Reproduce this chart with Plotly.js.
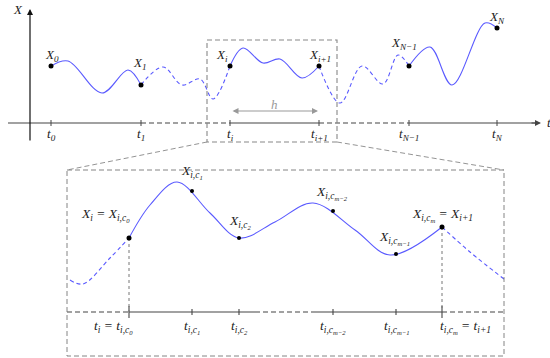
<!DOCTYPE html>
<html><head><meta charset="utf-8">
<script src="https://cdn.plot.ly/plotly-3.0.1.min.js"></script>
<style>html,body{margin:0;padding:0;background:#fff}#g{width:550px;height:358px}</style>
</head><body><div id="g"></div>
<script>
// ---- top panel data (pixel-space coordinates) ----
const tTop = [51, 141, 230, 319, 409, 497];
const tTopLabels = ['t<sub>0</sub>', 't<sub>1</sub>', 't<sub>i</sub>', 't<sub>i+1</sub>', 't<sub>N−1</sub>', 't<sub>N</sub>'];
const XTop = [66, 85, 66, 66, 66, 28];
const XTopLabels = ['X<sub>0</sub>', 'X<sub>1</sub>', 'X<sub>i</sub>', 'X<sub>i+1</sub>', 'X<sub>N−1</sub>', 'X<sub>N</sub>'];
const XTopLabelPos = [[52, 55], [140, 63], [222, 55], [320, 55], [404, 43], [497, 17]];

const seg0X = [51, 68, 102, 128, 141], seg0Y = [66, 61, 93, 70, 85];
const dash01X = [141, 163, 182, 200, 213, 230], dash01Y = [85, 67, 85, 79, 99, 66];
const segIX = [230, 243, 263, 280, 302, 319], segIY = [66, 48, 63, 59, 78, 66];
const dashINX = [319, 340, 362, 383, 398, 409], dashINY = [66, 103, 66, 84, 55, 66];
const segNX = [409, 430, 452, 485, 497], segNY = [66, 47, 85, 23, 28];

// ---- bottom panel data ----
const tBot = [129, 192, 239, 333, 396, 442];
const tBotLabels = ['t<sub>i</sub> = t<sub>i,c<sub>0</sub></sub>', 't<sub>i,c<sub>1</sub></sub>', 't<sub>i,c<sub>2</sub></sub>',
  't<sub>i,c<sub>m−2</sub></sub>', 't<sub>i,c<sub>m−1</sub></sub>', 't<sub>i,c<sub>m</sub></sub> = t<sub>i+1</sub>'];
const tBotLabelX = [113, 192, 239, 333, 396, 465];
const XBot = [238, 191, 238, 211, 254, 227];
const XBotLabels = ['X<sub>i</sub> = X<sub>i,c<sub>0</sub></sub>', 'X<sub>i,c<sub>1</sub></sub>', 'X<sub>i,c<sub>2</sub></sub>',
  'X<sub>i,c<sub>m−2</sub></sub>', 'X<sub>i,c<sub>m−1</sub></sub>', 'X<sub>i,c<sub>m</sub></sub> = X<sub>i+1</sub>'];
const XBotLabelPos = [[105, 215], [192, 172], [240, 222], [332, 193], [394, 238], [442, 215]];

const botDashLX = [70, 83, 110, 129], botDashLY = [280, 284, 258, 238];
const botSolidX = [129, 150, 177, 210, 239, 275, 313, 355, 390, 442];
const botSolidY = [238, 205, 182, 213, 238, 222, 203, 230, 255, 227];
const botDashRX = [442, 470, 504], botDashRY = [227, 252, 279];

const blue = '#5a5aff';
const axisCol = '#444';
const gray = '#888';
const textCol = '#222';
const FONT = 'Liberation Serif, DejaVu Serif, serif';
const CDASH = '4px,3px';
const ADASH = '5px,3px';

const traces = [];
function line(x, y, color, width, dash, shape) {
  traces.push({x: x, y: y, mode: 'lines', type: 'scatter', hoverinfo: 'skip',
    line: {color: color, width: width, dash: dash || 'solid', shape: shape || 'linear', smoothing: 1}});
}
// curves
line(seg0X, seg0Y, blue, 1.1, 'solid', 'spline');
line(dash01X, dash01Y, blue, 1.1, CDASH, 'spline');
line(segIX, segIY, blue, 1.1, 'solid', 'spline');
line(dashINX, dashINY, blue, 1.1, CDASH, 'spline');
line(segNX, segNY, blue, 1.1, 'solid', 'spline');
line(botDashLX, botDashLY, blue, 1.1, CDASH, 'spline');
line(botSolidX, botSolidY, blue, 1.1, 'solid', 'spline');
line(botDashRX, botDashRY, blue, 1.1, CDASH, 'spline');

// top time axis
const yAx = 123;
line([8, tTop[1]], [yAx, yAx], axisCol, 1.2);
line([tTop[1], tTop[2]], [yAx, yAx], axisCol, 1.2, ADASH);
line([tTop[2], tTop[3]], [yAx, yAx], axisCol, 1.2);
line([tTop[3], tTop[4]], [yAx, yAx], axisCol, 1.2, ADASH);
line([tTop[4], 536], [yAx, yAx], axisCol, 1.2);
tTop.forEach(t => line([t, t], [yAx - 3, yAx + 3], axisCol, 1));

// bottom time axis
const yB = 312;
line([67, tBot[0]], [yB, yB], axisCol, 1.2, ADASH);
line([tBot[0], 255], [yB, yB], axisCol, 1.2);
line([255, 315], [yB, yB], axisCol, 1.2, ADASH);
line([315, tBot[5]], [yB, yB], axisCol, 1.2);
line([tBot[5], 504], [yB, yB], axisCol, 1.2, ADASH);
tBot.forEach((t, k) => {
  const h = (k === 0 || k === tBot.length - 1) ? 6 : 3;
  line([t, t], [yB - h, yB + h], axisCol, 1.1);
});
// dotted drop lines
line([tBot[0], tBot[0]], [XBot[0], yB], '#777', 1, 'dot');
line([tBot[5], tBot[5]], [XBot[5], yB], '#777', 1, 'dot');

// zoom box and connectors
line([207, 337, 337, 207, 207], [40, 40, 142, 142, 40], gray, 1.1, ADASH);
line([67, 504, 504, 67, 67], [170, 170, 356, 356, 170], '#777', 0.9, ADASH);
line([207, 67], [142, 170], gray, 0.9, ADASH);
line([337, 504], [142, 170], gray, 0.9, ADASH);

// markers
traces.push({x: tTop, y: XTop, mode: 'markers', type: 'scatter', hoverinfo: 'skip',
  marker: {color: '#000', size: 5}});
traces.push({x: [tBot[0], tBot[5]], y: [XBot[0], XBot[5]], mode: 'markers', type: 'scatter', hoverinfo: 'skip',
  marker: {color: '#000', size: 5}});
traces.push({x: tBot.slice(1, 5), y: XBot.slice(1, 5), mode: 'markers', type: 'scatter', hoverinfo: 'skip',
  marker: {color: '#000', size: 4}});

const ann = [];
function txt(x, y, s, size, color) {
  ann.push({x: x, y: y, xref: 'x', yref: 'y', text: s, showarrow: false, xanchor: 'center', yanchor: 'middle',
    font: {family: FONT, size: size || 12, color: color || textCol}});
}
function arrow(x0, y0, x1, y1, color, side) {
  ann.push({x: x1, y: y1, ax: x0, ay: y0, xref: 'x', yref: 'y', axref: 'x', ayref: 'y', text: '',
    showarrow: true, arrowhead: 2, arrowsize: 1, arrowwidth: 1.2, arrowcolor: color, arrowside: side || 'end',
    standoff: 0, startstandoff: 0});
}
arrow(30, 142, 30, 9, '#111');
arrow(530, yAx, 541, yAx, axisCol);
arrow(231, 111, 318, 111, '#999', 'end+start');
txt(274, 104, '<i>h</i>', 13, '#999');
txt(18, 9, '<i>X</i>', 13);
txt(549, 122, '<i>t</i>', 13);

tTop.forEach((t, k) => txt(t, 134, '<i>' + tTopLabels[k] + '</i>', 13));
XTopLabels.forEach((s, k) => txt(XTopLabelPos[k][0], XTopLabelPos[k][1], '<i>' + s + '</i>', 13));
tBotLabels.forEach((s, k) => txt(tBotLabelX[k], 327, '<i>' + s + '</i>', 13.5));
XBotLabels.forEach((s, k) => txt(XBotLabelPos[k][0], XBotLabelPos[k][1], '<i>' + s + '</i>', 13.5));

const layout = {
  width: 550, height: 358, margin: {l: 0, r: 0, t: 0, b: 0},
  paper_bgcolor: '#fff', plot_bgcolor: '#fff', showlegend: false,
  xaxis: {range: [0, 550], visible: false, fixedrange: true},
  yaxis: {range: [358, 0], visible: false, fixedrange: true},
  annotations: ann
};
Plotly.newPlot('g', traces, layout, {staticPlot: true, displayModeBar: false});
</script></body></html>
